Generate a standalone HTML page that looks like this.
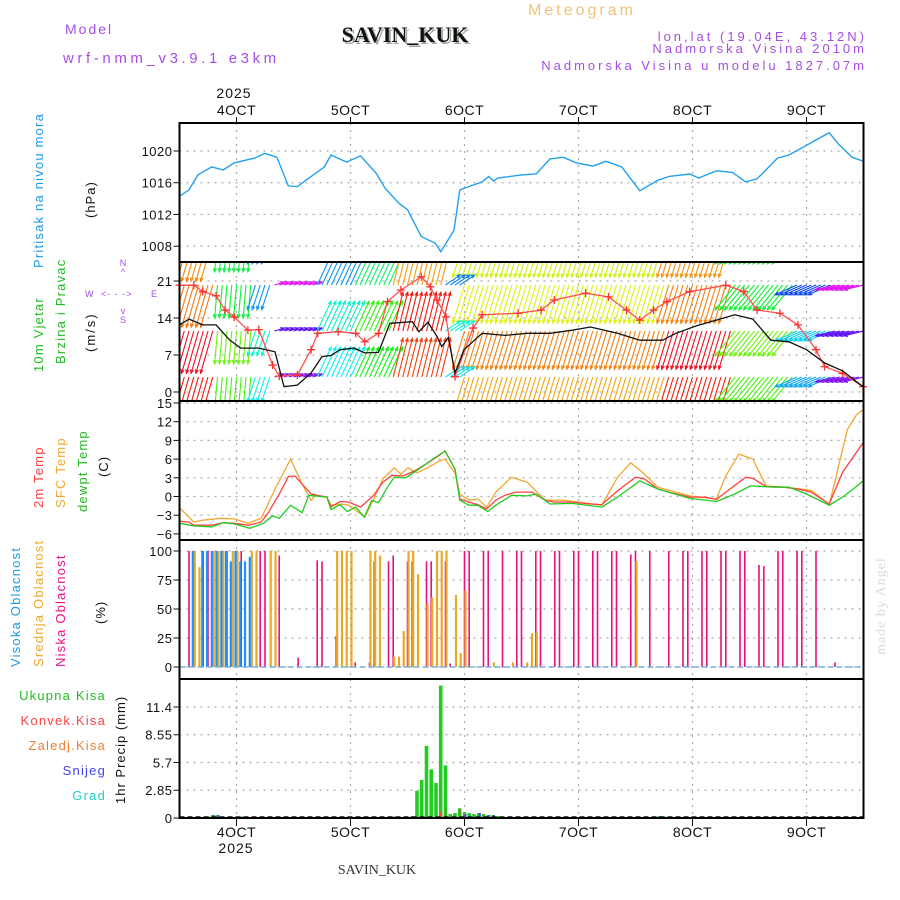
<!DOCTYPE html>
<html><head><meta charset="utf-8"><style>
html,body{margin:0;padding:0;background:#fff;}
svg{display:block;font-family:"Liberation Sans",sans-serif;}
</style></head><body>
<svg id="chart" width="900" height="900" viewBox="0 0 900 900" xmlns="http://www.w3.org/2000/svg">
<text x="65" y="34" font-size="14" fill="#a64de6" letter-spacing="2">Model</text>
<text x="63" y="63" font-size="15" fill="#a64de6" letter-spacing="3.6">wrf-nmm_v3.9.1 e3km</text>
<text x="407" y="44" font-size="22" font-weight="bold" font-family="Liberation Serif,serif" text-anchor="middle" fill="#9aa89a">SAVIN_KUK</text>
<text x="405" y="42" font-size="22" font-weight="bold" font-family="Liberation Serif,serif" text-anchor="middle" fill="#111">SAVIN_KUK</text>
<text x="582" y="15" font-size="16" fill="#f2c27a" text-anchor="middle" letter-spacing="3">Meteogram</text>
<text x="867" y="41" font-size="13" fill="#a64de6" text-anchor="end" letter-spacing="3">lon,lat (19.04E, 43.12N)</text>
<text x="867" y="53" font-size="13" fill="#a64de6" text-anchor="end" letter-spacing="3">Nadmorska Visina 2010m</text>
<text x="867" y="70" font-size="13" fill="#a64de6" text-anchor="end" letter-spacing="3">Nadmorska Visina u modelu 1827.07m</text>
<text x="234" y="98" font-size="14" fill="#111" text-anchor="middle" letter-spacing="1">2025</text>
<text x="236" y="853" font-size="14" fill="#111" text-anchor="middle" letter-spacing="1">2025</text>
<text x="377" y="874" font-size="14" font-family="Liberation Serif,serif" fill="#333" text-anchor="middle">SAVIN_KUK</text>
<text x="0" y="0" font-size="14" font-family="Liberation Serif,serif" fill="#d8dcd8" letter-spacing="1" transform="translate(885,655) rotate(-90)">made by Angel</text>

<text font-size="13" fill="#1e9ae6" letter-spacing="1.2" transform="translate(43,268) rotate(-90)">Pritisak na nivou mora</text>
<text font-size="13" fill="#111" letter-spacing="1" transform="translate(95,218) rotate(-90)">(hPa)</text>
<text font-size="13" fill="#22bb22" letter-spacing="1.2" transform="translate(43,372) rotate(-90)">10m Vjetar</text>
<text font-size="13" fill="#22bb22" letter-spacing="1.2" transform="translate(65,364) rotate(-90)">Brzina i Pravac</text>
<text font-size="13" fill="#111" letter-spacing="2" transform="translate(95,352) rotate(-90)">(m/s)</text>
<g fill="#a64de6" font-size="9">
<text x="123" y="266" text-anchor="middle">N</text><text x="123" y="275" text-anchor="middle">^</text>
<text x="85" y="297">W</text><text x="101" y="297" letter-spacing="1">&lt;- - -&gt;</text><text x="151" y="297">E</text>
<text x="123" y="314" text-anchor="middle">v</text><text x="123" y="323" text-anchor="middle">S</text>
</g>
<text font-size="13" fill="#ff4040" letter-spacing="1.2" transform="translate(43,508) rotate(-90)">2m Temp</text>
<text font-size="13" fill="#f0a830" letter-spacing="1.2" transform="translate(65,508) rotate(-90)">SFC Temp</text>
<text font-size="13" fill="#22bb22" letter-spacing="1.2" transform="translate(87,512) rotate(-90)">dewpt Temp</text>
<text font-size="13" fill="#111" letter-spacing="1" transform="translate(108,477) rotate(-90)">(C)</text>
<text font-size="13" fill="#1e9ae6" letter-spacing="1.2" transform="translate(20,667) rotate(-90)">Visoka Oblacnost</text>
<text font-size="13" fill="#f0a830" letter-spacing="1.2" transform="translate(43,667) rotate(-90)">Srednja Oblacnost</text>
<text font-size="13" fill="#ee1188" letter-spacing="1.2" transform="translate(65,667) rotate(-90)">Niska Oblacnost</text>
<text font-size="13" fill="#111" letter-spacing="1" transform="translate(105,624) rotate(-90)">(%)</text>
<text x="106" y="700" font-size="13" fill="#22bb22" text-anchor="end" letter-spacing="1.2">Ukupna Kisa</text>
<text x="106" y="725" font-size="13" fill="#ff4040" text-anchor="end" letter-spacing="1.2">Konvek.Kisa</text>
<text x="106" y="750" font-size="13" fill="#f08030" text-anchor="end" letter-spacing="1.2">Zaledj.Kisa</text>
<text x="106" y="775" font-size="13" fill="#4444ee" text-anchor="end" letter-spacing="1.2">Snijeg</text>
<text x="106" y="800" font-size="13" fill="#22cccc" text-anchor="end" letter-spacing="1.2">Grad</text>
<text font-size="13" fill="#111" letter-spacing="1" transform="translate(125,804) rotate(-90)">1hr Precip (mm)</text>
<defs><clipPath id="windclip"><rect x="180" y="263" width="683" height="137"/></clipPath></defs>
<g id="layer"></g>
</svg>
<script>
// ---- data ----
const dayLabels = ["4OCT","5OCT","6OCT","7OCT","8OCT","9OCT"];
const presHours = [-12,-10,-8.1,-5.2,-2.8,-0.5,3.8,6,8.5,10.9,12.8,15.5,18.5,19.9,23.2,26.1,29.4,31.3,34.2,36,38.9,41.8,43,45.8,47,51.7,53.1,54.1,55,60.3,63.1,66,68.8,71.6,75,77.8,81.1,84.9,88.7,91.1,95.4,97.3,101,104.4,107.2,109.6,113.9,116.3,119.1,122,124.8,126.7,129.6,132];
const presVals = [1014.3,1015.1,1017,1018,1017.6,1018.5,1019.1,1019.7,1019.2,1015.6,1015.5,1016.7,1018,1019.5,1018.6,1019.4,1017.2,1015.3,1013.4,1012.6,1009.2,1008.4,1007.3,1010,1015.1,1016.1,1016.8,1016.2,1016.6,1017,1017.1,1019,1019.2,1018.5,1018.1,1018.7,1018,1015,1016.3,1016.8,1017.1,1016.6,1017.5,1017.3,1016.1,1016.5,1019.1,1019.5,1020.4,1021.4,1022.3,1020.9,1019.2,1018.7];
const presTicks = [1008,1012,1016,1020];

const speedHours = [-12,-10,-7.1,-4.3,-1.4,0.9,4.7,8.1,10,12.8,15.7,18,19.9,21.8,24.7,27,29.9,32.3,37,38.4,40.3,42.2,43.2,44.6,46,47.9,51.7,56.5,61.2,66,70.7,74.5,80.2,84.9,89.7,92.5,96.8,101,104.9,108.7,112.5,116.3,120,123.8,127.6,131.9];
const speedVals = [12.7,13.8,12.7,12.7,9.8,8.3,8.3,7.6,1,1.3,3.6,6.7,6.9,8,8.3,7.4,7.5,13,13.3,11.4,13.2,10.5,8.6,10.3,3.6,8,11.1,10.7,11.1,11.1,11.7,12.3,11.1,9.8,9.8,11.1,12.5,13.6,14.6,13.8,9.8,9.5,8,5.5,4,1];
const gustHours = [-12,-9,-7.1,-4.3,-2.4,-0.5,2.4,4.7,7.6,9,12.8,15.7,17.1,21.4,25.1,27,29.9,31.8,34.6,38.9,40.8,42.2,44.1,46,49.8,51.7,59.3,64.1,66.9,73.5,78.3,82.1,84.9,87.8,90.6,95.4,103,106.8,109.6,114.4,118.2,122,123.8,127.6,131.9];
const gustVals = [20.2,20.2,19,18.2,15.5,14.2,11.7,11.8,5.1,3,3.2,8,11.1,11.4,11.1,9.5,11.1,17.1,19.3,21.8,19.9,17.4,14.2,2.9,12.1,14.6,14.9,15.5,17.4,18.7,18,15.5,13.6,15.5,17.1,19,20.2,19,15.5,14.9,12.7,8,4.8,3.5,1];
const windTicks = [0,7,14,21];
// wind regimes: start hour, end hour, direction (deg, toward, 0=N), speed (m/s), hue
const windStart = [-12,-4,4,8,17,25,33,44,48,91,105,118,126];
const windEnd   = [-4,4,8,17,25,33,44,48,91,105,118,126,133];
const windDir   = [196,185,198,73,25,25,14,56,197,197,219,246,256];
const windSpd   = [22,16.5,13,5,16.5,16.5,20,9,20,20,16,12,10];
const windHue   = [8,110,185,275,185,125,18,190,45,10,110,205,275];

const tempHours2m = [-12,-10,-9,-5.2,-2.8,-0.5,2.4,5.2,6.6,9,10.9,12.3,13.8,15.7,19,19.9,21.8,23.7,26.1,28.9,30.8,32.7,35.1,37.5,40.3,42.7,43.9,46,47,48.9,50.8,52.7,54.6,56.5,58.8,62.2,65,66.9,70.7,74.5,76.9,80.2,84,85.9,88.7,91.6,95.4,98.7,101,103.9,107.2,108.7,111.5,115.3,118.2,121,124.8,127.6,131.9];
const temp2mVals = [-3.96,-4.1,-4.6,-4.6,-4.2,-4.3,-4.6,-4.1,-2.7,0.4,3.2,3.3,2,0.4,-0.1,-1.7,-0.8,-0.9,-1.7,0.2,2.3,3.4,3.3,4.1,5.4,6.6,7.3,4.4,-0.4,-0.9,-1.3,-2,-0.6,0.2,0.7,0.7,-0.6,-0.9,-0.9,-1.2,-1.3,0.9,3.1,2.8,1.2,0.6,-0.1,-0.1,-0.5,1.2,3.1,2.9,1.6,1.5,1.2,0.7,-1.2,3.9,8.6];
const tempHoursSfc = [-12,-9,-7.1,-3.3,-0.5,2.4,5.2,8.1,11.4,13.8,15.7,16.6,19,19.9,21.8,23.7,27,28.9,30.8,33.2,34.6,36.1,38,40.3,42.7,43.9,46,47,48.9,50.8,52.7,54.6,57.9,61.2,65,68.8,76.9,80.2,83,85.9,88.7,95.4,101,103,105.8,108.7,111.5,115.3,121,124.8,128.6,130.5,131.9];
const tempSfcVals = [-1.8,-4.1,-3.8,-3.5,-3.6,-4.3,-3.5,1.2,6,2,-0.6,0.2,-0.1,-1.4,-1.2,-1.4,-3.3,-0.4,2.8,4.6,3.6,4.6,3.8,4.6,5.7,6,3.8,0.4,-0.6,-0.4,-1.7,0.7,3.1,2.3,-0.6,-0.6,-1.4,3.1,5.4,3.6,1.5,0.1,-0.4,3.3,6.8,6,1.7,1.5,1,-1.3,10.7,13.1,13.9];
const tempHoursDew = [-12,-9,-5.2,-2.8,-0.5,2.8,5.7,7.6,9,11.4,13.8,15.2,19,19.9,21.8,23.3,25.1,26.9,28.5,29.9,31.8,33.2,35.6,38.4,41.3,43.9,46,47,48.9,50.8,52.9,54.6,57.9,61.2,63.1,66,70.7,76.9,80.2,84.9,88.7,95.4,101,104.9,108.2,113.4,116.3,120,124.8,127.6,130.5,131.9];
const tempDewVals = [-4.3,-4.7,-4.9,-4.2,-4.4,-5.1,-4.3,-3.1,-3.5,-1.4,-2.6,0.2,-0.1,-2.1,-1.3,-2.4,-1.7,-3.3,-0.6,-1,1.5,3.1,3,4.4,6,7.3,4.4,-0.6,-1.4,-1.4,-2.4,-1.4,0.2,0.1,0.4,-1.2,-1.1,-1.7,-0.1,2.5,1.2,-0.3,-0.8,0.4,1.7,1.5,1.5,0.4,-1.4,-0.1,1.6,2.5];
const tempTicks = [-6,-3,0,3,6,9,12,15];

const highHours = [-9,-7,-6,-5,-4,-3,-2,-1,0,1,2,3];
const highVals  = [100,100,100,100,100,100,100,91,100,91,91,95];
const midHours = [-9,-8,-5,-4,-3,-1,0,3,4,7,8,21,22,23,24,28,29,30,33,34,35,36,37,38,40,41,42,43,44,46,47,48,54,58,61,62,63,84];
const midVals  = [100,86,100,100,100,100,100,100,100,100,100,100,100,100,100,100,100,96,9,9,31,100,100,80,55,60,100,100,100,62,12,66,4,4,4,29,30,91];
const lowHours = [-10,-7,-6,-3,-2,1,5,6,9,13,17,18,21,25,28,29,32,33,36,37,40,41,44,45,48,49,52,53,56,59,60,63,64,67,68,71,72,75,76,79,80,83,84,87,91,94,95,98,99,102,103,106,107,110,111,114,115,118,119,122,126];
const lowVals  = [100,100,100,100,100,100,100,100,96,8,92,91,27,4,4,91,91,96,91,91,91,91,91,3,100,100,100,100,100,100,100,100,100,100,100,100,100,100,100,100,100,97,100,100,100,100,100,100,100,100,100,100,100,88,87,100,100,100,100,100,4];
const cloudTicks = [0,25,50,75,100];

const rainHours = [-7,-6,-5,-4,-3,-2,-1,0,1,2,33,34,37,38,39,40,41,42,43,44,45,46,47,48,49,50,51,52,53,54,55,88,89,90];
const rainVals  = [0.1,0.15,0.3,0.3,0.15,0.1,0.1,0.1,0.15,0.1,0.15,0.15,0.2,2.8,3.9,7.4,5.0,3.6,13.6,5.4,0.4,0.5,1.0,0.6,0.5,0.4,0.5,0.4,0.3,0.3,0.2,0.15,0.2,0.15];
const convHours = [43,44,47,48];
const convVals  = [0.65,1.0,1.0,0.3];
const snowHours = [-5,-4,-1,48,51,53,54,89];
const snowVals  = [0.3,0.3,0.1,0.4,0.5,0.3,0.3,0.2];
const precipTicks = [0,2.85,5.7,8.55,11.4];

// ---- layout ----
const X0=179.5, X1=863.5, H0=-12, H1=132;
function xs(h){return X0+(h-H0)*(X1-X0)/(H1-H0);}
const panels = {
  pres:{top:123,bot:262,y:v=>151+(1020-v)*7.93},
  wind:{top:262,bot:401,y:v=>392-v*5.286},
  temp:{top:401,bot:540,y:v=>496.5-v*6.233},
  cloud:{top:540,bot:679,y:v=>667-v*1.16},
  prec:{top:679,bot:818,y:v=>818-v*9.737}
};
const NS="http://www.w3.org/2000/svg";
const layer=document.getElementById('layer');
function mk(tag,attrs,parent){const e=document.createElementNS(NS,tag);for(const k in attrs)e.setAttribute(k,attrs[k]);(parent||layer).appendChild(e);return e;}
function line(hs,vs,p,color,name,w){
  let d='';for(let i=0;i<hs.length;i++){d+=(i?'L':'M')+xs(hs[i]).toFixed(1)+','+p.y(vs[i]).toFixed(1);}
  const e=mk('path',{d:d,fill:'none',stroke:color,'stroke-width':w||1.3});
  
  
  return e;
}
function grid(p,ticks,fmt,name){
  const g=mk('g',{});
  
  
  ticks.forEach(t=>{const y=p.y(t);
    mk('line',{x1:X0,x2:X1,y1:y,y2:y,stroke:'#aaa','stroke-dasharray':'2,5','stroke-width':1.2},g);
    mk('line',{x1:X0-6,x2:X0,y1:y,y2:y,stroke:'#111','stroke-width':1},g);
    const t2=mk('text',{x:X0-7,y:y+5,'font-size':13,'text-anchor':'end',fill:'#111','letter-spacing':0.5},g);t2.textContent=fmt(t);
  });
  for(let d=0;d<=120;d+=24){const x=xs(d);
    mk('line',{x1:x,x2:x,y1:p.top,y2:p.bot,stroke:'#aaa','stroke-dasharray':'2,5','stroke-width':1.2},g);}
}
grid(panels.pres,presTicks,String,'pressure');
grid(panels.wind,windTicks,String,'wind');
grid(panels.temp,tempTicks,t=>t<0?'\u2212'+(-t):String(t),'temperature');
grid(panels.cloud,cloudTicks,String,'cloud');
grid(panels.prec,precipTicks,t=>t===0?'0':String(t),'precip');

line(presHours,presVals,panels.pres,'#22a0f0','pressure-line',1.4);

const windG=mk('g',{'clip-path':'url(#windclip)'});


const rowY=[239,285,331,377], rowHueOff=[25,20,-15,-5];
for(let r=0;r<4;r++){
  for(let i=0;i<windStart.length;i++){
    for(let h=Math.ceil(windStart[i]);h<windEnd[i]&&h<=H1;h++){
      const a=windDir[i]*Math.PI/180, L=windSpd[i]*2;
      const x0=xs(h), y0=rowY[r], x1=x0+L*Math.sin(a), y1=y0-L*Math.cos(a);
      let hue=(windHue[i]+rowHueOff[r]+360)%360;
      const col='hsl('+hue+',90%,50%)';
      const ar=mk('path',{d:'M'+x0.toFixed(1)+','+y0+'L'+x1.toFixed(1)+','+y1.toFixed(1)+
        'M'+(x1-4*Math.sin(a-0.4)).toFixed(1)+','+(y1+4*Math.cos(a-0.4)).toFixed(1)+'L'+x1.toFixed(1)+','+y1.toFixed(1)+
        'L'+(x1-4*Math.sin(a+0.4)).toFixed(1)+','+(y1+4*Math.cos(a+0.4)).toFixed(1),
        fill:'none',stroke:col,'stroke-width':1.1},windG);
      
      
    }
  }
}
line(gustHours,gustVals,panels.wind,'#ff5050','wind-gust-line',1.3);
gustHours.forEach((h,i)=>{const x=xs(h),y=panels.wind.y(gustVals[i]);
  const m=mk('path',{d:`M${x-4},${y}L${x+4},${y}M${x},${y-4}L${x},${y+4}`,stroke:'#ff3030','stroke-width':1.3});
  
  
});
line(speedHours,speedVals,panels.wind,'#111','wind-speed-line',1.3);

line(tempHoursSfc,tempSfcVals,panels.temp,'#f0a830','sfc-temp-line',1.3);
line(tempHours2m,temp2mVals,panels.temp,'#ff4040','temp-2m-line',1.3);
line(tempHoursDew,tempDewVals,panels.temp,'#20cc20','dewpoint-line',1.3);

function bars(hs,vs,p,color,name,w,off){
  hs.forEach((h,i)=>{const x=xs(h)+off;const y=p.y(vs[i]);
    const b=mk('rect',{x:(x-w/2).toFixed(1),y:y.toFixed(1),width:w,height:(p.y(0)-y).toFixed(1),fill:color});
    
    
  });
}
bars(lowHours,lowVals,panels.cloud,'#e8107e','low-cloud-bar',1.6,0);
bars(midHours,midVals,panels.cloud,'#e8a828','mid-cloud-bar',2.2,1);
bars(highHours,highVals,panels.cloud,'#1e90ff','high-cloud-bar',2.2,-1);
mk('line',{x1:X0,x2:X1,y1:panels.cloud.y(0),y2:panels.cloud.y(0),stroke:'#7ab0d8','stroke-width':1.5,'stroke-dasharray':'6,3'});

bars(rainHours,rainVals,panels.prec,'#22cc22','rain-bar',3.6,0);
bars(convHours,convVals,panels.prec,'#ff4040','convective-bar',1.2,0);
bars(snowHours,snowVals,panels.prec,'#4444ee','snow-bar',2,1);
mk('line',{x1:X0,x2:X1,y1:817,y2:817,stroke:'#111','stroke-width':1.5,'stroke-dasharray':'5,3'});

['pres','wind','temp','cloud','prec'].forEach(k=>{const p=panels[k];
  const r=mk('rect',{x:X0,y:p.top,width:X1-X0,height:p.bot-p.top,fill:'none',stroke:'#000','stroke-width':2});
  
  
});
dayLabels.forEach((lab,i)=>{const x=xs(i*24);
  mk('line',{x1:x,x2:x,y1:117,y2:123,stroke:'#111'});
  mk('line',{x1:x,x2:x,y1:818,y2:826,stroke:'#111'});
  const t=mk('text',{x:x,y:115,'font-size':14,'text-anchor':'middle',fill:'#111','letter-spacing':0.5});t.textContent=lab;
  
  
  const b=mk('text',{x:x,y:837,'font-size':14,'text-anchor':'middle',fill:'#111','letter-spacing':0.5});b.textContent=lab;
  
  
});
</script>
</body></html>
